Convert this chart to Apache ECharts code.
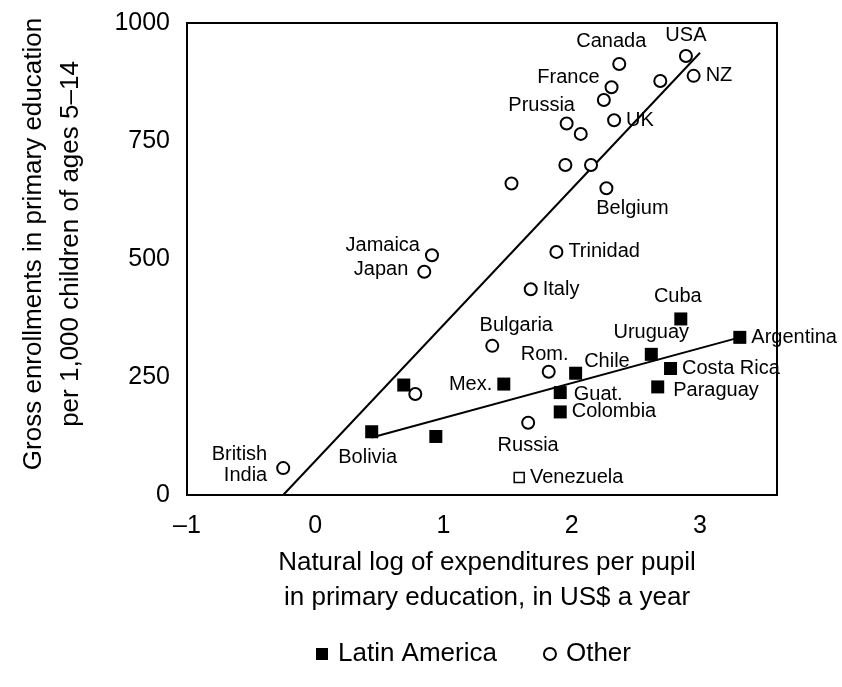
<!DOCTYPE html>
<html>
<head>
<meta charset="utf-8">
<script src="https://cdn.jsdelivr.net/npm/echarts@6/dist/echarts.min.js"></script>
<style>
  html, body { margin: 0; padding: 0; background: #fff; }
  #chart { width: 842px; height: 687px; }
</style>
</head>
<body>
<div id="chart"></div>
<script>
// Latin America (filled squares)
const latinNames = ['Argentina', 'Cuba', 'Uruguay', 'Costa Rica', 'Chile', 'Paraguay', 'Mex.', 'Guat.', 'Colombia', 'Bolivia', '', '', 'Venezuela'];
const latinX = [3.31, 2.85, 2.62, 2.77, 2.03, 2.67, 1.47, 1.91, 1.91, 0.44, 0.69, 0.94, 1.59];
const latinY = [334, 373, 298, 268, 258, 229, 235, 217, 176, 134, 233, 124, 37];

// Other countries (open circles)
const otherNames = ['USA', 'Canada', 'NZ', '', 'France', '', 'Prussia', '', 'UK', '', '', '', 'Belgium',
  'Trinidad', 'Italy', 'Jamaica', 'Japan', 'Bulgaria', 'Rom.', 'Russia', '', 'British\nIndia'];
const otherX = [2.89, 2.37, 2.95, 2.69, 2.31, 2.25, 1.96, 2.07, 2.33, 1.95, 2.15, 1.53, 2.27,
  1.88, 1.68, 0.91, 0.85, 1.38, 1.82, 1.66, 0.78, -0.25];
const otherY = [930, 913, 888, 877, 864, 837, 787, 765, 794, 699, 699, 660, 650,
  515, 436, 508, 473, 316, 261, 153, 214, 57];

// fitted lines, end points
const otherLine = [[-0.25, 0], [3.0, 937]];
const latinLine = [[0.44, 122], [3.31, 334]];

const xTicks = [-1, 0, 1, 2, 3];
const yTicks = [0, 250, 500, 750, 1000];

// where each label sits: [position, dx, dy]
const labelPlace = {
  'USA': ['top', 0, 2],
  'Canada': ['top', -8, 0],
  'NZ': ['right', 0, 0],
  'France': ['left', 0, -10],
  'Prussia': ['top', -25, 4],
  'UK': ['right', 0, 0],
  'Belgium': ['bottom', 26, -2],
  'Trinidad': ['right', 0, 0],
  'Italy': ['right', 0, 0],
  'Jamaica': ['left', 0, -10],
  'Japan': ['left', -4, -2],
  'Bulgaria': ['top', 24, 2],
  'Rom.': ['top', -4, 5],
  'Russia': ['bottom', 0, 0],
  'British\nIndia': ['left', -4, -3],
  'Argentina': ['right', 0, 0],
  'Cuba': ['top', -3, 0],
  'Uruguay': ['top', 0, 0],
  'Costa Rica': ['right', 0, 0],
  'Chile': ['right', -3, -12],
  'Paraguay': ['right', 4, 4],
  'Mex.': ['left', 0, 0],
  'Guat.': ['right', 2, 2],
  'Colombia': ['right', 0, 0],
  'Bolivia': ['bottom', -4, 4],
  'Venezuela': ['right', 0, 0]
};

const FONT = 'Liberation Sans, Arial, sans-serif';

function toData(names, xs, ys) {
  return names.map((n, i) => {
    const item = { name: n, value: [xs[i], ys[i]] };
    const p = labelPlace[n];
    if (p) {
      item.label = { show: true, position: p[0], offset: [p[1], p[2]], color: '#000' };
    }
    if (n === 'Venezuela') {
      item.symbolSize = 10;
      item.itemStyle = { color: '#fff', borderColor: '#000', borderWidth: 1.5, opacity: 1 };
    }
    return item;
  });
}

const pointLabel = {
  show: false,
  formatter: '{b}',
  color: '#000',
  fontSize: 20,
  lineHeight: 21,
  fontFamily: FONT
};

let myChart = echarts.init(document.getElementById('chart'));
myChart.setOption({
  animation: false,
  backgroundColor: '#fff',
  textStyle: { fontFamily: FONT, color: '#000' },
  grid: {
    left: 187,
    top: 23,
    right: 65,
    bottom: 192,
    show: true,
    borderColor: '#000',
    borderWidth: 2,
    backgroundColor: 'transparent'
  },
  legend: {
    data: ['Latin America', 'Other'],
    left: 311,
    top: 636,
    itemWidth: 12,
    itemHeight: 12,
    itemGap: 46,
    textStyle: { fontSize: 26, color: '#000', fontFamily: FONT, padding: [0, 0, 0, 5] }
  },
  xAxis: {
    type: 'value',
    min: -1,
    max: 3.6,
    interval: 1,
    name: 'Natural log of expenditures per pupil\nin primary education, in US$ a year',
    nameLocation: 'middle',
    nameGap: 50,
    nameTextStyle: { fontSize: 26, lineHeight: 35, color: '#000', fontFamily: FONT, padding: [0, 0, 0, 10] },
    axisLine: { show: false },
    axisTick: { show: false },
    splitLine: { show: false },
    axisLabel: {
      fontSize: 25,
      color: '#000',
      margin: 19,
      fontFamily: FONT,
      formatter: v => xTicks.includes(v) ? (v < 0 ? '\u2013' + (-v) : String(v)) : ''
    }
  },
  yAxis: {
    type: 'value',
    min: 0,
    max: 1000,
    interval: 250,
    name: 'Gross enrollments in primary education\nper 1,000 children of ages 5\u201314',
    nameLocation: 'middle',
    nameRotate: 90,
    nameGap: 98,
    nameTextStyle: { fontSize: 26, lineHeight: 37, color: '#000', fontFamily: FONT, padding: [0, 0, 0, 30] },
    axisLine: { show: false },
    axisTick: { show: false },
    splitLine: { show: false },
    axisLabel: {
      fontSize: 25,
      color: '#000',
      margin: 17,
      fontFamily: FONT,
      formatter: v => yTicks.includes(v) ? String(v) : ''
    }
  },
  series: [
    {
      type: 'line',
      data: otherLine,
      symbol: 'none',
      lineStyle: { color: '#000', width: 2 },
      z: 1,
      silent: true
    },
    {
      type: 'line',
      data: latinLine,
      symbol: 'none',
      lineStyle: { color: '#000', width: 2 },
      z: 1,
      silent: true
    },
    {
      name: 'Latin America',
      type: 'scatter',
      symbol: 'rect',
      symbolSize: 13,
      itemStyle: { color: '#000', opacity: 1 },
      label: pointLabel,
      data: toData(latinNames, latinX, latinY),
      z: 3
    },
    {
      name: 'Other',
      type: 'scatter',
      symbol: 'circle',
      symbolSize: 12,
      itemStyle: { color: '#fff', borderColor: '#000', borderWidth: 2, opacity: 1 },
      label: pointLabel,
      data: toData(otherNames, otherX, otherY),
      z: 3
    }
  ]
});

window.addEventListener('resize', () => {
  myChart.resize();
});
</script>
</body>
</html>
